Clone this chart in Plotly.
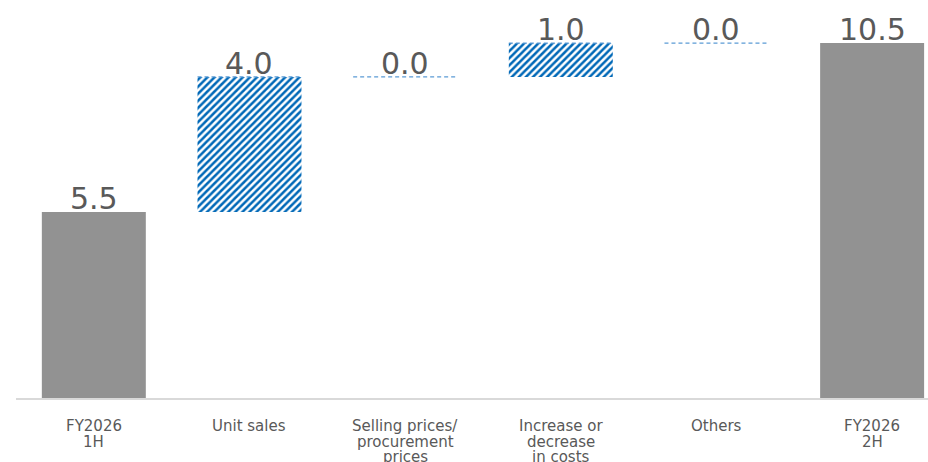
import plotly.graph_objects as go

categories = ["FY2026<br>1H", "Unit sales", "Selling prices/<br>procurement<br>prices",
              "Increase or<br>decrease<br>in costs", "Others", "FY2026<br>2H"]
values = [5.5, 4.0, 0.0, 1.0, 0.0, 10.5]
kinds = ["total", "delta", "delta", "delta", "delta", "total"]
labels = ["5.5", "4.0", "0.0", "1.0", "0.0", "10.5"]

# compute bases for waterfall
bases, tops = [], []
running = 0.0
for v, k in zip(values, kinds):
    if k == "total":
        bases.append(0.0)
        tops.append(v)
        running = v
    else:
        bases.append(running)
        running += v
        tops.append(running)

xs = list(range(len(categories)))
BW = 0.668
GRAY = "#929292"
BLUE = "#0068b7"
LIGHT = "#5b9bd5"
TXT = "#595959"
FONT = "DejaVu Sans"

fig = go.Figure()

# total bars
tx = [x for x, k in zip(xs, kinds) if k == "total"]
ty = [v for v, k in zip(values, kinds) if k == "total"]
fig.add_trace(go.Bar(x=tx, y=ty, width=BW, marker=dict(color=GRAY, line=dict(width=0)),
                     hoverinfo="skip", showlegend=False))

# delta bars (hatched)
dx = [x for x, k, v in zip(xs, kinds, values) if k == "delta" and v != 0]
dy = [v for x, k, v in zip(xs, kinds, values) if k == "delta" and v != 0]
db = [b for x, k, v, b in zip(xs, kinds, values, bases) if k == "delta" and v != 0]
fig.add_trace(go.Bar(x=dx, y=dy, base=db, width=BW,
                     marker=dict(color="white", line=dict(width=0),
                                 pattern=dict(shape="/", fgcolor=BLUE, bgcolor="white",
                                              size=5, solidity=0.5, fillmode="replace")),
                     hoverinfo="skip", showlegend=False))

# dashed top edges of change bars
for x, k, t in zip(xs, kinds, tops):
    if k == "delta":
        fig.add_trace(go.Scatter(x=[x - BW / 2, x + BW / 2], y=[t, t], mode="lines",
                                 line=dict(color=LIGHT, width=1.2, dash="4px,3px"),
                                 hoverinfo="skip", showlegend=False))

# value labels
for x, t, lab in zip(xs, tops, labels):
    fig.add_annotation(x=x, y=t, text=lab, showarrow=False, yanchor="bottom", yshift=-6,
                       font=dict(family=FONT, size=30, color=TXT))

# category labels (one annotation per line for tight spacing)
for x, cat in zip(xs, categories):
    for i, line in enumerate(cat.split("<br>")):
        fig.add_annotation(x=x, y=0, text=line, showarrow=False, yanchor="middle",
                           yshift=-(28 + i * 15.5),
                           font=dict(family=FONT, size=15, color=TXT))

fig.update_layout(
    width=928, height=462,
    margin=dict(l=16, r=0, t=0, b=64),
    paper_bgcolor="white", plot_bgcolor="white",
    barmode="overlay",
    xaxis=dict(range=[-0.5, 5.359], tickvals=xs, showticklabels=False, showgrid=False,
               zeroline=False, showline=True, linecolor="#d9d9d9", linewidth=2, ticks=""),
    yaxis=dict(range=[0, 11.775], visible=False),
)

fig.write_html("out.html")
